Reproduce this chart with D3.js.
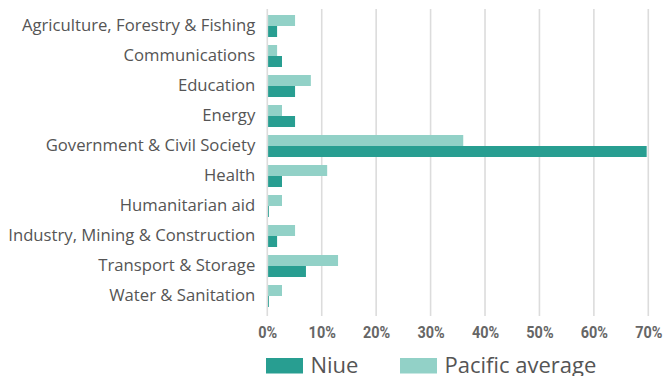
<!DOCTYPE html>
<html>
<head>
<meta charset="utf-8">
<script src="https://cdn.jsdelivr.net/npm/d3@7"></script>
<style>
  html, body { margin: 0; padding: 0; background: #fff; }
  svg { display: block; font-family: "Open Sans", Roboto, sans-serif; }
</style>
</head>
<body>
<svg id="chart" width="664" height="376"></svg>
<script>
// Sector shares of aid, Niue vs. Pacific average (%)
const sectors = [
  "Agriculture, Forestry & Fishing",
  "Communications",
  "Education",
  "Energy",
  "Government & Civil Society",
  "Health",
  "Humanitarian aid",
  "Industry, Mining & Construction",
  "Transport & Storage",
  "Water & Sanitation"
];
const pacificValues = [5.1, 1.8, 8.0, 2.7, 36.0, 11.0, 2.7, 5.1, 13.0, 2.7];
const niueValues    = [1.8, 2.7, 5.1, 5.1, 69.7, 2.7, 0.3, 1.8, 7.1, 0.3];
const xTicks = [0, 10, 20, 30, 40, 50, 60, 70];
const seriesNames = ["Niue", "Pacific average"];

const colors = { "Niue": "#289e91", "Pacific average": "#92d1c7" };

const svg = d3.select("#chart");
const plotLeft = 267.3, plotRight = 648.3, plotTop = 9, plotBottom = 316;

const x = d3.scaleLinear().domain([0, 70]).range([plotLeft, plotRight]);
const y = d3.scaleBand().domain(sectors).range([7, 315]).paddingInner(0.267).paddingOuter(0.267);
const sub = d3.scaleBand().domain(["Pacific average", "Niue"]).range([0, y.bandwidth()]);

// Vertical gridlines
svg.append("g")
  .selectAll("line")
  .data(xTicks)
  .join("line")
  .attr("x1", d => x(d)).attr("x2", d => x(d))
  .attr("y1", plotTop).attr("y2", plotBottom)
  .attr("stroke", "#dcdcdc")
  .attr("stroke-width", 1.6);

// Bars
const rows = sectors.map((s, i) => ({ s, pac: pacificValues[i], niue: niueValues[i] }));
const g = svg.append("g");
g.selectAll("rect.pac")
  .data(rows)
  .join("rect")
  .attr("class", "pac")
  .attr("x", x(0) + 0.8)
  .attr("y", d => y(d.s) + sub("Pacific average"))
  .attr("width", d => x(d.pac) - x(0) - 0.8)
  .attr("height", sub.bandwidth())
  .attr("fill", colors["Pacific average"]);
g.selectAll("rect.niue")
  .data(rows)
  .join("rect")
  .attr("class", "niue")
  .attr("x", x(0) + 0.8)
  .attr("y", d => y(d.s) + sub("Niue"))
  .attr("width", d => Math.max(0, x(d.niue) - x(0) - 0.8))
  .attr("height", sub.bandwidth())
  .attr("fill", colors["Niue"]);

// Category labels
const yAxis = svg.append("g")
  .attr("transform", `translate(${plotLeft - 12},0)`)
  .call(d3.axisLeft(y).tickSize(0).tickPadding(0));
yAxis.select(".domain").remove();
yAxis.selectAll("text")
  .attr("fill", "#555")
  .attr("dy", "0.3em")
  .style("font-size", "16.7px")
  .style("font-family", "'Open Sans', sans-serif");

// Percentage axis labels (narrow bold figures)
const xAxis = svg.append("g")
  .attr("transform", `translate(0,${plotBottom})`)
  .call(d3.axisBottom(x).tickValues(xTicks).tickFormat(d => d + "%").tickSize(0).tickPadding(10));
xAxis.select(".domain").remove();
xAxis.selectAll("text")
  .attr("fill", "#666")
  .attr("transform", "scale(0.85,1)")
  .style("font-size", "17px")
  .style("font-weight", "bold")
  .style("font-family", "Roboto, sans-serif");

// Legend
const legendX = [266, 400];
const legend = svg.append("g")
  .selectAll("g")
  .data(seriesNames)
  .join("g")
  .attr("transform", (d, i) => `translate(${legendX[i]},358)`);
legend.append("rect")
  .attr("width", 37).attr("height", 15.5)
  .attr("fill", d => colors[d]);
legend.append("text")
  .attr("x", 44.5).attr("y", 14.5)
  .attr("fill", "#555")
  .style("font-size", "22px")
  .style("font-family", "'Open Sans', sans-serif")
  .text(d => d);
</script>
</body>
</html>
